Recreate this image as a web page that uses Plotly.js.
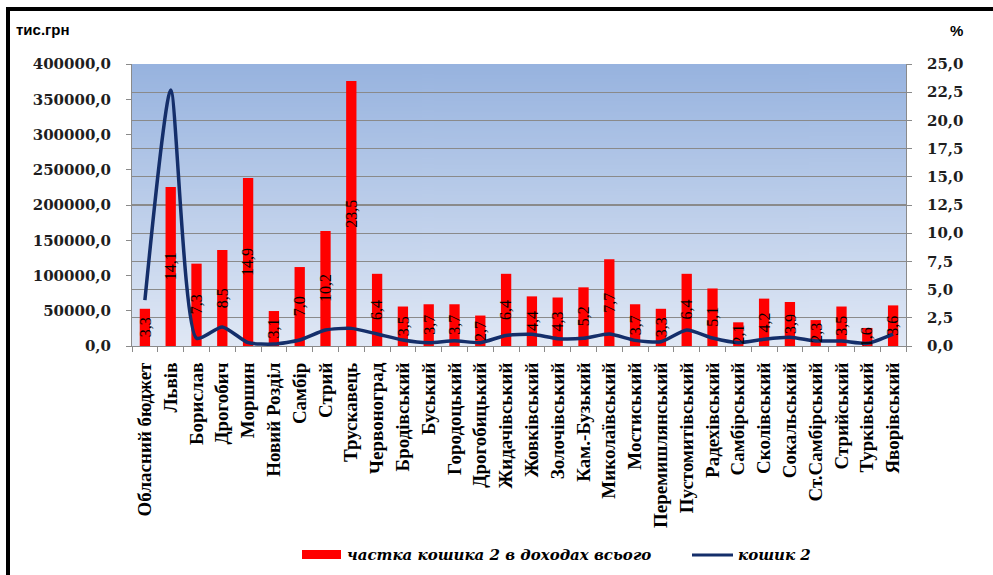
<!DOCTYPE html>
<html>
<head>
<meta charset="utf-8">
<script src="https://cdn.plot.ly/plotly-3.0.1.min.js"></script>
<style>
  html, body { margin: 0; padding: 0; background: #ffffff; }
  #chart { width: 993px; height: 575px; }
</style>
</head>
<body>
<div id="chart"></div>
<script>
// ---- data ----
const categories = ['Обласний бюджет','Львів','Борислав','Дрогобич','Моршин','Новий Розділ','Самбір','Стрий','Трускавець','Червоноград','Бродівський','Буський','Городоцький','Дрогобицький','Жидачівський','Жовківський','Золочівський','Кам.-Бузький','Миколаївський','Мостиський','Перемишлянський','Пустомитівський','Радехівський','Самбірський','Сколівський','Сокальський','Ст.Самбірський','Стрийський','Турківський','Яворівський'];

// частка кошика 2 в доходах всього, %
const shareValues = [3.3, 14.1, 7.3, 8.5, 14.9, 3.1, 7.0, 10.2, 23.5, 6.4, 3.5, 3.7, 3.7, 2.7, 6.4, 4.4, 4.3, 5.2, 7.7, 3.7, 3.3, 6.4, 5.1, 2.1, 4.2, 3.9, 2.3, 3.5, 1.6, 3.6];

// кошик 2, тис.грн
const basketValues = [65000, 363000, 11000, 27000, 4700, 2800, 8500, 22700, 25000, 17000, 8500, 4700, 7500, 4700, 15000, 16500, 10400, 11000, 17000, 8000, 6100, 22700, 11300, 4700, 9500, 12300, 7100, 7100, 3800, 17000];

const leftTicksTitle = 'тис.грн';
const rightTicksTitle = '%';
const seriesNames = ['частка кошика 2 в доходах всього', 'кошик 2'];

// ---- styles ----
const RED = '#FF0000';
const NAVY = '#142E6A';
const GRID = '#8A8A8A';
const tickFont = {family: 'DejaVu Serif', size: 15, color: '#1E1E1E', weight: 'bold'};

// gradient background for plot area
function gradientURL() {
  const c = document.createElement('canvas');
  c.width = 4; c.height = 300;
  const g = c.getContext('2d');
  const gr = g.createLinearGradient(0, 0, 0, 300);
  gr.addColorStop(0, '#97B3DF');
  gr.addColorStop(1, '#E0E8F5');
  g.fillStyle = gr;
  g.fillRect(0, 0, 4, 300);
  return c.toDataURL('image/png');
}

const barTrace = {
  type: 'bar',
  x: categories,
  y: shareValues,
  name: seriesNames[0],
  yaxis: 'y',
  marker: {color: RED},
  showlegend: false,
  hoverinfo: 'x+y'
};

const lineTrace = {
  type: 'scatter',
  mode: 'lines',
  x: categories,
  y: basketValues,
  name: seriesNames[1],
  yaxis: 'y2',
  line: {color: NAVY, width: 3.5, shape: 'spline', smoothing: 0.6},
  showlegend: false
};

const labelAnnotations = categories.map((c, i) => ({
  x: c, y: shareValues[i] / 2, xref: 'x', yref: 'y',
  text: shareValues[i].toFixed(1).replace('.', ','),
  textangle: -90, showarrow: false,
  font: {family: 'Liberation Serif', size: 16, color: '#000000'}
}));

// plot-area geometry (px) for paper-coordinate decorations
const W = 993, H = 575, L = 132, R = 87, T = 64, B = 229;
const PW = W - L - R, PH = H - T - B;
const px = v => (v - L) / PW;
const py = v => 1 - (v - T) / PH;

const otherAnnotations = [
  {xref: 'paper', yref: 'paper', x: px(14), y: py(30), xanchor: 'left', yanchor: 'middle',
   text: leftTicksTitle, showarrow: false,
   font: {family: 'Liberation Sans', size: 15, color: '#000000', weight: 'bold'}},
  {xref: 'paper', yref: 'paper', x: px(956), y: py(31), xanchor: 'center', yanchor: 'middle',
   text: rightTicksTitle, showarrow: false,
   font: {family: 'Liberation Sans', size: 15, color: '#000000', weight: 'bold'}},
  {xref: 'paper', yref: 'paper', x: px(345), y: py(555), xanchor: 'left', yanchor: 'middle',
   text: seriesNames[0], showarrow: false,
   font: {family: 'DejaVu Serif', size: 15, color: '#000000', weight: 'bold', style: 'italic'}},
  {xref: 'paper', yref: 'paper', x: px(736), y: py(555), xanchor: 'left', yanchor: 'middle',
   text: seriesNames[1], showarrow: false,
   font: {family: 'DejaVu Serif', size: 15, color: '#000000', weight: 'bold', style: 'italic'}}
];

const shapes = [
  // frame
  {type: 'line', xref: 'paper', yref: 'paper', x0: px(8), x1: px(8), y0: py(580), y1: py(7), line: {color: '#000000', width: 4}},
  {type: 'line', xref: 'paper', yref: 'paper', x0: px(6), x1: px(1000), y0: py(9), y1: py(9), line: {color: '#000000', width: 4}},
  // legend symbols
  {type: 'rect', xref: 'paper', yref: 'paper', x0: px(302), x1: px(341), y0: py(559), y1: py(550), fillcolor: RED, line: {width: 0}},
  {type: 'line', xref: 'paper', yref: 'paper', x0: px(692), x1: px(733), y0: py(555), y1: py(555), line: {color: NAVY, width: 3}}
];

const layout = {
  width: W, height: H,
  margin: {l: L, r: R, t: T, b: B, pad: 0},
  paper_bgcolor: '#ffffff',
  plot_bgcolor: 'rgba(0,0,0,0)',
  separators: ', ',
  bargap: 0.6,
  showlegend: false,
  images: [{source: gradientURL(), xref: 'paper', yref: 'paper', x: 0, y: 1, sizex: 1, sizey: 1,
            sizing: 'stretch', xanchor: 'left', yanchor: 'top', layer: 'below'}],
  xaxis: {
    type: 'category',
    tickangle: -90,
    ticks: 'outside', ticklen: 5, tickcolor: GRID, tickson: 'boundaries',
    showline: true, linecolor: GRID, linewidth: 1,
    showgrid: false,
    tickfont: {family: 'Liberation Serif', size: 19, color: '#000000', weight: 'bold'},
    ticklabelstandoff: 8
  },
  yaxis: {
    side: 'right',
    range: [0, 25], dtick: 2.5, tick0: 0,
    tickformat: '.1f',
    ticks: 'outside', ticklen: 5, tickcolor: GRID,
    showline: true, linecolor: GRID, linewidth: 1,
    showgrid: true, gridcolor: GRID, gridwidth: 1.3,
    zeroline: false,
    tickfont: tickFont,
    ticklabelstandoff: 12
  },
  yaxis2: {
    overlaying: 'y', side: 'left',
    range: [0, 400000], dtick: 50000, tick0: 0,
    tickformat: '.1f',
    ticks: 'outside', ticklen: 5, tickcolor: GRID,
    showline: true, linecolor: GRID, linewidth: 1,
    showgrid: false, zeroline: false,
    tickfont: tickFont,
    ticklabelstandoff: 12
  },
  annotations: labelAnnotations.concat(otherAnnotations),
  shapes: shapes
};

Plotly.newPlot('chart', [barTrace, lineTrace], layout, {displayModeBar: false, staticPlot: true});
</script>
</body>
</html>
